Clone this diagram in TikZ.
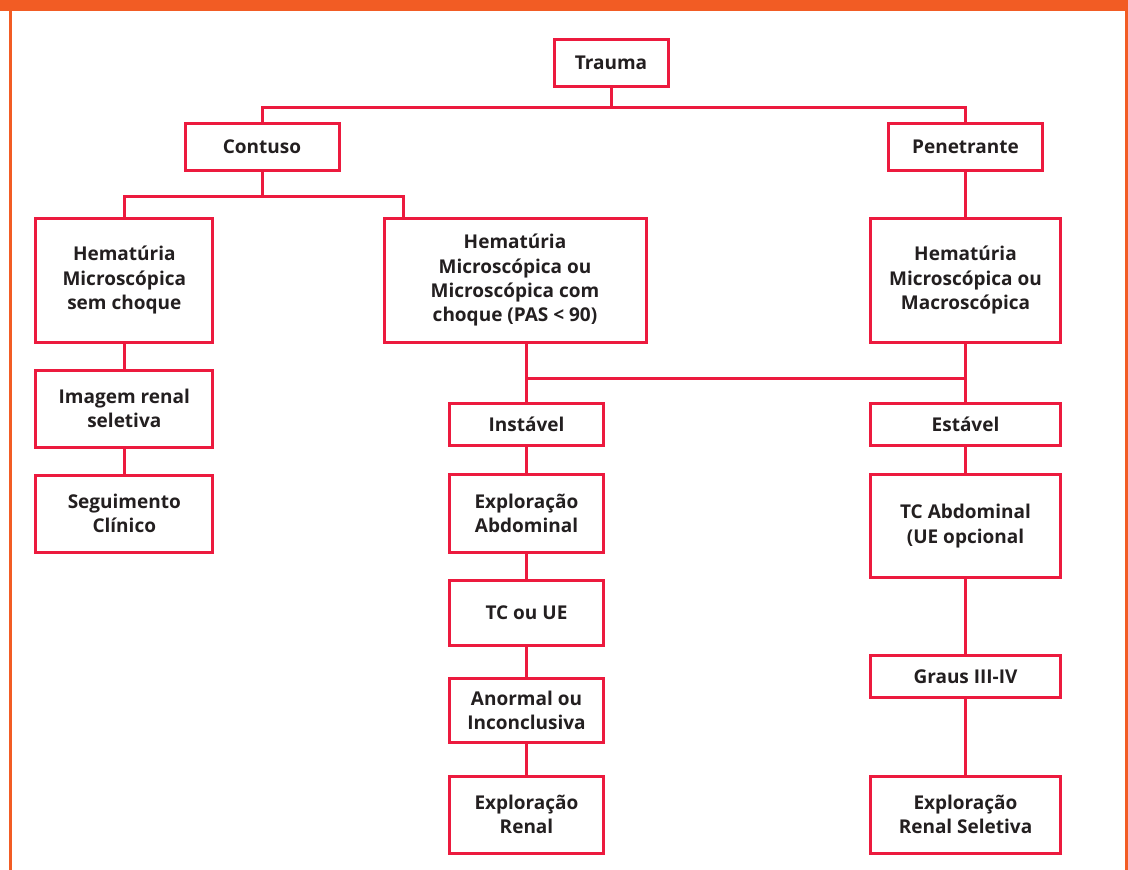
\documentclass[tikz,border=0pt]{standalone}
\usepackage{fontspec}
\setmainfont{Open Sans}
\definecolor{boxred}{RGB}{236,26,62}
\definecolor{barorange}{RGB}{242,92,36}
\definecolor{txt}{RGB}{35,31,32}
\begin{document}
\begin{tikzpicture}[x=1pt,y=-1pt,
  box/.style={draw=boxred,line width=3pt,fill=white,inner sep=0pt,align=center,
    text=txt,font=\bfseries\fontsize{19}{24.3}\selectfont},
  conn/.style={draw=boxred,line width=3pt}]
\useasboundingbox (0,0) rectangle (1128,870);
\fill[white] (0,0) rectangle (1128,870);
\fill[barorange] (0,0) rectangle (1128,11);
\fill[barorange] (8.5,0) rectangle (11.7,870);
\fill[barorange] (1125,0) rectangle (1128,870);
% nodes
\node[box,minimum width=114pt,minimum height=47pt] (trauma) at (611,62.7) {Trauma};
\node[box,minimum width=154pt,minimum height=47pt] (contuso) at (262,147) {Contuso};
\node[box,minimum width=154pt,minimum height=47pt] (pen) at (965.5,147) {Penetrante};
\node[box,minimum width=176.7pt,minimum height=124pt] (hemL) at (124.3,280.3) {Hematúria\\Microscópica\\sem choque};
\node[box,minimum width=262pt,minimum height=124pt] (hemM) at (515,280.3) {Hematúria\\Microscópica ou\\Microscópica com\\choque (PAS < 90)};
\node[box,minimum width=190pt,minimum height=124pt] (hemR) at (965.5,280.3) {Hematúria\\Microscópica ou\\Macroscópica};
\node[box,minimum width=176.7pt,minimum height=77pt] (imagem) at (124.3,408.7) {Imagem renal\\seletiva};
\node[box,minimum width=176.7pt,minimum height=77pt] (seg) at (124.3,513.5) {Seguimento\\Clínico};
\node[box,minimum width=154pt,minimum height=42pt] (inst) at (526.5,424) {Instável};
\node[box,minimum width=154pt,minimum height=78pt] (explAbd) at (526.5,513.3) {Exploração\\Abdominal};
\node[box,minimum width=154pt,minimum height=65pt] (tcue) at (526.5,613.2) {TC ou UE};
\node[box,minimum width=154pt,minimum height=64pt] (anormal) at (526.5,710.5) {Anormal ou\\Inconclusiva};
\node[box,minimum width=154pt,minimum height=77pt] (explRen) at (526.5,814.7) {Exploração\\Renal};
\node[box,minimum width=190pt,minimum height=42pt] (est) at (965.5,424) {Estável};
\node[box,minimum width=190pt,minimum height=103pt] (tcAbd) at (965.5,526) {TC Abdominal\\(UE opcional};
\node[box,minimum width=190pt,minimum height=42pt] (graus) at (965.5,676.7) {Graus III-IV};
\node[box,minimum width=190pt,minimum height=77pt] (explRenSel) at (965.5,814.5) {Exploração\\Renal Seletiva};
% junction coordinates
\coordinate (j1) at (611,107.5);
\coordinate (j2) at (262,196);
\coordinate (j2b) at (403,196);
\coordinate (j3) at (526.5,378);
% connectors
\draw[conn] (trauma.south) -- (j1);
\draw[conn] (contuso.north) -- (contuso.north |- j1) -- (pen.north |- j1) -- (pen.north);
\draw[conn] (contuso.south) -- (j2);
\draw[conn] (hemL.north) -- (hemL.north |- j2) -- (j2b) -- (j2b |- hemM.north);
\draw[conn] (hemL.south) -- (imagem.north);
\draw[conn] (imagem.south) -- (seg.north);
\draw[conn] (pen.south) -- (hemR.north);
\draw[conn] (inst.north |- hemM.south) -- (inst.north);
\draw[conn] (j3) -- (hemR.south |- j3);
\draw[conn] (hemR.south) -- (est.north);
\draw[conn] (inst.south) -- (explAbd.north);
\draw[conn] (explAbd.south) -- (tcue.north);
\draw[conn] (tcue.south) -- (anormal.north);
\draw[conn] (anormal.south) -- (explRen.north);
\draw[conn] (est.south) -- (tcAbd.north);
\draw[conn] (tcAbd.south) -- (graus.north);
\draw[conn] (graus.south) -- (explRenSel.north);
\end{tikzpicture}
\end{document}
